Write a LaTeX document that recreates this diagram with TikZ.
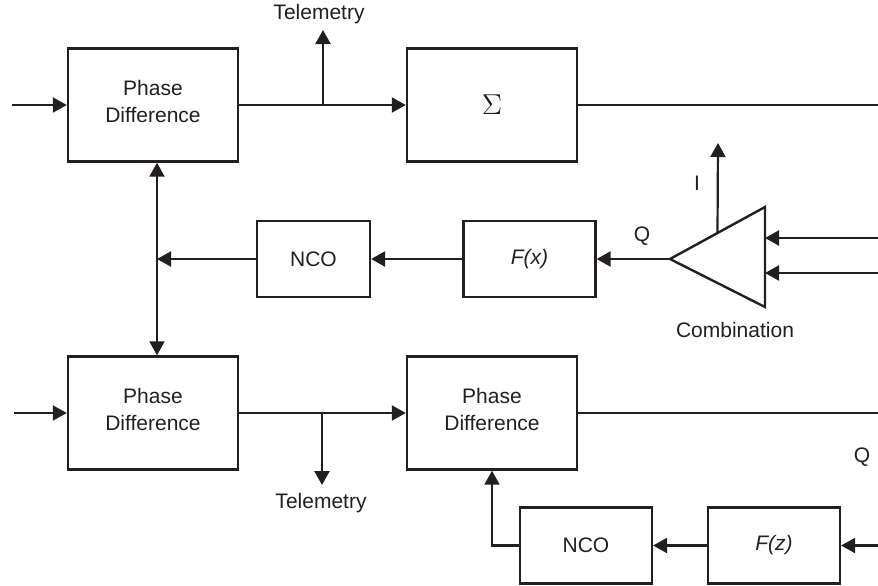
\documentclass[tikz,border=0pt]{standalone}
\usepackage{fontspec}
\setmainfont{Liberation Sans}
\usetikzlibrary{positioning}
\usetikzlibrary{calc}
\usetikzlibrary{arrows.meta}
\definecolor{diagramink}{RGB}{35, 31, 32}

\begin{document}
\begin{tikzpicture}[x=0.5pt, y=-0.5pt, line width=1.1pt, draw=diagramink, color=diagramink,
        every node/.style={align=center, text=diagramink, font=\fontsize{10.5}{13.4}\selectfont},
        blockbox/.style={draw, line width=1.2pt, minimum width=85pt, minimum height=56.5pt, inner sep=0pt},
        smallbox/.style={draw, line width=1.1pt, minimum width=66pt, minimum height=38pt, inner sep=0pt},
        sig/.style={-{Triangle[length=7pt, width=7.5pt]}},
        bisig/.style={{Triangle[length=7pt, width=7.5pt]}-{Triangle[length=7pt, width=7.5pt]}}]

        \useasboundingbox (0,0) rectangle (878,585);

        % Upper row
        \node[blockbox] (pdA) at (153,105) {Phase\\Difference\\[-10pt]};
        \node[blockbox] (sumBox) at (492,105) {\Large$\Sigma$};

        % Middle loop
        \node[smallbox, minimum width=56.5pt] (ncoA) at (313.5,259) {NCO};
        \node[smallbox] (fxBox) at (529.5,259) {\textit{F(x)}};

        % Combination triangle
        \coordinate (combTip) at (670,259);
        \coordinate (combTop) at (765,207);
        \coordinate (combBot) at (765,307);
        \draw[line width=1.2pt] (combTip) -- (combTop) -- (combBot) -- cycle;
        \node (combLabel) at (735,330) {Combination};

        % Lower row
        \node[blockbox] (pdB) at (153,413) {Phase\\Difference\\[-10pt]};
        \node[blockbox] (pdC) at (492,413) {Phase\\Difference\\[-10pt]};
        \node[smallbox] (ncoB) at (586,545.5) {NCO};
        \node[smallbox] (fzBox) at (774,545.5) {\textit{F(z)}};

        % Free ends
        \coordinate (inA) at (12,105);
        \coordinate (inB) at (14,413);
        \coordinate (outA) at (878,105);
        \coordinate (outC) at (878,413);
        \coordinate (inComb1) at (878,238);
        \coordinate (inComb2) at (878,273);
        \coordinate (inFz) at (878,545.5);
        \coordinate (telA) at (323,30);
        \coordinate (telB) at (322,485);
        \coordinate (iOut) at (718,143);
        \coordinate (bus) at (157,259);

        % Upper connections
        \draw[sig] (inA) -- (pdA.west);
        \draw[sig] (pdA.east) -- (sumBox.west);
        \draw[sig] (telA |- pdA.east) -- (telA);
        \node (telALabel) at (319,14) {Telemetry};
        \draw (sumBox.east) -- (outA);

        % Loop connections
        \draw[bisig] (bus |- pdA.south) -- (bus |- pdB.north);
        \draw[sig] (ncoA.west) -- (bus);
        \draw[sig] (fxBox.west) -- (ncoA.east);
        \draw[sig] (combTip) -- (fxBox.east);
        \node (qLabelA) at (642,236) {Q};
        \draw[sig] ($(combTip)!0.5!(combTop)$) -- (iOut);
        \node (iLabel) at (697,183) {I};
        \draw[sig] (inComb1) -- (combTop |- inComb1);
        \draw[sig] (inComb2) -- (combTop |- inComb2);

        % Lower connections
        \draw[sig] (inB) -- (pdB.west);
        \draw[sig] (pdB.east) -- (pdC.west);
        \draw[sig] (telB |- pdB.east) -- (telB);
        \node (telBLabel) at (321,503) {Telemetry};
        \draw (pdC.east) -- (outC);
        \node (qLabelB) at (862,457) {Q};
        \draw[sig] (inFz) -- (fzBox.east);
        \draw[sig] (fzBox.west) -- (ncoB.east);
        \draw[sig] (ncoB.west) -| (pdC.south);

    \end{tikzpicture}
\end{document}
